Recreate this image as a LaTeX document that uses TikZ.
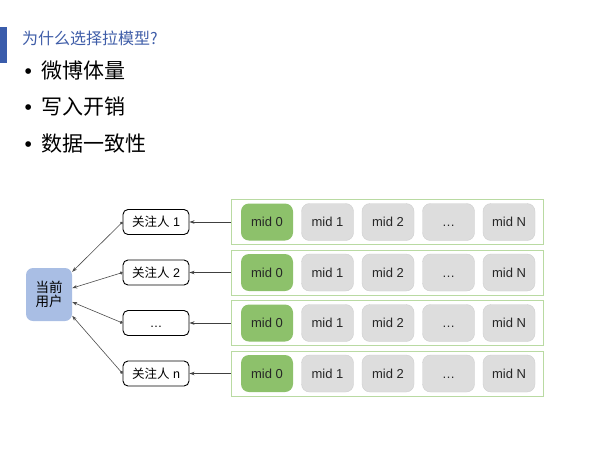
\documentclass[tikz,border=0pt]{standalone}
\usepackage{fontspec}
\setmainfont{Liberation Sans}
\newfontfamily\cjk{Noto Sans CJK SC}
\usetikzlibrary{arrows.meta,calc}
\definecolor{titleblue}{HTML}{3F5DA8}
\definecolor{barblue}{HTML}{3A5CAB}
\definecolor{userblue}{HTML}{A9BEE4}
\definecolor{midgreen}{HTML}{8DC16B}
\definecolor{rowgreen}{HTML}{B9DAA2}
\definecolor{cellgray}{HTML}{DDDDDD}
\definecolor{cellline}{HTML}{CFCFCF}
\tikzset{
  follower/.style={draw=black, line width=0.9pt, fill=white, rounded corners=5pt,
    minimum width=66pt, minimum height=25pt, inner sep=0pt,
    text height=10pt, text depth=0.5pt, font=\fontsize{12.5}{14}\selectfont},
  rowbox/.style={draw=rowgreen, line width=0.8pt, fill=white,
    minimum width=312pt, minimum height=45pt, inner sep=0pt},
  midcell/.style={rounded corners=8pt, minimum width=52pt, minimum height=37pt,
    inner sep=0pt, text height=10pt, text depth=0.7pt, text=black!85,
    font=\fontsize{13}{15}\selectfont},
  feed/.style={-{Stealth[length=5pt,width=3.5pt]}, line width=0.8pt, black!75},
  follow/.style={{Circle[length=3pt]}-{Stealth[length=5pt,width=3.5pt]}, line width=0.6pt, black!70},
}
\begin{document}
\begin{tikzpicture}[x=1pt,y=-1pt]
    \useasboundingbox (0,0) rectangle (604,453);
    % title and bullets
    \fill[barblue] (0,27) rectangle (6.5,63);
    \node[anchor=west, inner sep=0pt, text=titleblue, font=\cjk\fontsize{16}{18}\selectfont]
        (title) at (22,38) {为什么选择拉模型?};
    \foreach \item/\y in {微博体量/71, 写入开销/107, 数据一致性/144}
        \node[anchor=west, inner sep=0pt, font=\fontsize{21}{24}\selectfont]
            at (24.5,\y) {•\hspace{9pt}{\cjk \item}};
    % current user
    \node[fill=userblue, rounded corners=7pt, minimum width=46pt, minimum height=53pt,
        inner sep=0pt, align=center, font=\cjk\fontsize{13.5}{14}\selectfont]
        (user) at (49,294.5) {当前\\用户};
    % followers and their mid lists
    \foreach \lab/\f [count=\i] in {{{\cjk 关注人} 1}/0.075, {{\cjk 关注人} 2}/0.38,
                                    {…}/0.64, {{\cjk 关注人} n}/0.9} {
        \pgfmathsetmacro{\y}{171.5+50.5*\i}
        \node[follower] (fol\i) at (156,\y) {\lab};
        \node[rowbox] (row\i) at (387,\y) {};
        \node[midcell, fill=midgreen] (mid\i-0) at (267,\y) {mid 0};
        \foreach \t [count=\j] in {mid 1, mid 2, …, mid N}
            \node[midcell, fill=cellgray, draw=cellline, line width=0.4pt]
                (mid\i-\j) at (267+60.5*\j,\y) {\t};
        \draw[feed] (row\i.west) -- (fol\i.east);
        \draw[follow] (fol\i.west) -- ($(user.north east)!\f!(user.south east)$);
    }
\end{tikzpicture}
\end{document}
